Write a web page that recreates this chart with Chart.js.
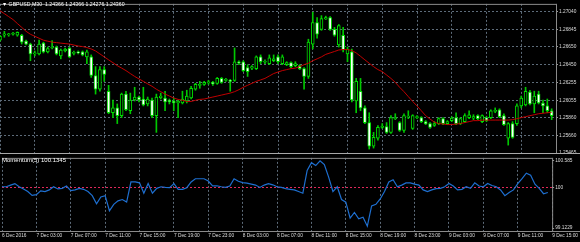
<!DOCTYPE html>
<html><head><meta charset="utf-8">
<script src="https://cdn.jsdelivr.net/npm/chart.js@4.4.1/dist/chart.umd.min.js"></script>
<style>
html,body{margin:0;padding:0;background:#000;width:580px;height:242px;overflow:hidden;}
#wrap{position:relative;width:580px;height:242px;background:#000;}
canvas{position:absolute;left:0;}
#c1{top:0;}
#c2{top:154px;}
.lbl{position:absolute;color:#fff;font-family:"Liberation Sans",Arial,sans-serif;font-size:10px;white-space:nowrap;transform-origin:0 0;line-height:10px;}
</style></head><body>
<div id="wrap">
<canvas id="c1" width="580" height="158"></canvas>
<canvas id="c2" width="580" height="88"></canvas>
<div class="lbl" style="left:2px;top:2px;transform:scale(0.52)">▼ GBPUSD,M30&nbsp; 1.24366 1.24366 1.24276 1.24360</div>
<div class="lbl" style="left:2px;top:157px;transform:scale(0.6)">Momentum(5) 100.1345</div>
</div>
<script>
const tickLabels = ["6 Dec 2016","7 Dec 03:00","7 Dec 07:00","7 Dec 11:00","7 Dec 15:00","7 Dec 19:00","7 Dec 23:00","8 Dec 03:00","8 Dec 07:00","8 Dec 11:00","8 Dec 15:00","8 Dec 19:00","8 Dec 23:00","9 Dec 03:00","9 Dec 07:00","9 Dec 11:00","9 Dec 15:00"];
const priceTicks = [1.27040,1.26845,1.26650,1.26450,1.26255,1.26055,1.25860,1.25660,1.25465];
const momTicks = [100.585,100,99.1229];
const momTickLabels = ["100.585","100","99.1229"];

const open = [
1.26724,1.26779,1.26784,1.26790,1.26779,1.26779,1.26713,1.26681,1.26571,1.26571,
1.26691,1.26593,1.26637,1.26648,1.26549,1.26604,1.26637,1.26577,1.26593,1.26593,
1.26538,1.26538,1.26330,1.26177,1.26396,1.26155,1.25915,1.25969,1.25882,1.26123,
1.25937,1.26057,1.26090,1.26068,1.26013,1.26057,1.25882,1.26084,1.26079,1.26057,
1.26046,1.26024,1.26024,1.26046,1.26079,1.26177,1.26221,1.26232,1.26248,1.26254,
1.26243,1.26298,1.26276,1.26276,1.26276,1.26484,1.26484,1.26418,1.26413,1.26407,
1.26538,1.26478,1.26462,1.26495,1.26538,1.26462,1.26451,1.26473,1.26440,1.26440,
1.26407,1.26320,1.26681,1.26921,1.26845,1.26960,1.26976,1.26845,1.26670,1.26779,
1.26571,1.26593,1.26046,1.26155,1.25969,1.25805,1.25543,1.25630,1.25751,1.25762,
1.25696,1.25849,1.25805,1.25718,1.25866,1.25740,1.25860,1.25860,1.25816,1.25794,
1.25773,1.25794,1.25849,1.25794,1.25827,1.25860,1.25794,1.25816,1.25860,1.25855,
1.25882,1.25816,1.25860,1.25860,1.25931,1.25948,1.25882,1.25630,1.25794,1.25794,
1.25991,1.26002,1.26145,1.26013,1.26123,1.26024,1.25991,1.25937];
const high = [
1.26779,1.26823,1.26801,1.26812,1.26817,1.26790,1.26724,1.26691,1.26604,1.26724,
1.26702,1.26648,1.26719,1.26659,1.26626,1.26637,1.26648,1.26604,1.26604,1.26604,
1.26615,1.26560,1.26429,1.26429,1.26429,1.26221,1.26057,1.26013,1.26134,1.26155,
1.26134,1.26199,1.26101,1.26199,1.26090,1.26079,1.26123,1.26134,1.26155,1.26068,
1.26079,1.26057,1.26155,1.26166,1.26210,1.26243,1.26265,1.26265,1.26276,1.26265,
1.26309,1.26309,1.26298,1.26287,1.26637,1.26495,1.26495,1.26451,1.26440,1.26549,
1.26560,1.26505,1.26560,1.26560,1.26560,1.26560,1.26484,1.26484,1.26484,1.26451,
1.26418,1.26735,1.27036,1.26976,1.26998,1.26992,1.26987,1.26867,1.26899,1.26867,
1.26648,1.26626,1.26298,1.26298,1.25991,1.25915,1.25696,1.25773,1.25794,1.25805,
1.25882,1.25904,1.25816,1.25904,1.25937,1.25893,1.25882,1.25871,1.25827,1.25805,
1.25816,1.25860,1.25860,1.25827,1.25871,1.25915,1.25860,1.25904,1.25937,1.25893,
1.25893,1.25893,1.25871,1.25948,1.25969,1.25959,1.25904,1.25805,1.25816,1.26013,
1.26101,1.26199,1.26166,1.26155,1.26155,1.26057,1.26068,1.25959];
const low = [
1.26713,1.26757,1.26768,1.26779,1.26768,1.26681,1.26670,1.26495,1.26549,1.26560,
1.26582,1.26582,1.26626,1.26560,1.26516,1.26593,1.26527,1.26560,1.26571,1.26549,
1.26462,1.26309,1.26123,1.26155,1.26265,1.25904,1.25860,1.25794,1.25860,1.25937,
1.25904,1.26046,1.26035,1.25991,1.25991,1.25860,1.25696,1.26068,1.25937,1.26013,
1.25937,1.25860,1.26013,1.26024,1.26068,1.26166,1.26188,1.26221,1.26232,1.26221,
1.26232,1.26243,1.26265,1.26155,1.26265,1.26451,1.26374,1.26320,1.26396,1.26396,
1.26462,1.26462,1.26451,1.26484,1.26462,1.26451,1.26440,1.26418,1.26429,1.26396,
1.26177,1.26298,1.26626,1.26746,1.26834,1.26954,1.26834,1.26768,1.26648,1.26593,
1.26484,1.26035,1.25915,1.25937,1.25794,1.25510,1.25521,1.25608,1.25740,1.25685,
1.25685,1.25838,1.25707,1.25696,1.25849,1.25729,1.25849,1.25805,1.25783,1.25740,
1.25762,1.25783,1.25783,1.25783,1.25816,1.25783,1.25783,1.25805,1.25849,1.25838,
1.25838,1.25805,1.25816,1.25849,1.25915,1.25860,1.25773,1.25554,1.25630,1.25773,
1.25969,1.25991,1.26002,1.25915,1.26013,1.25915,1.25915,1.25838];
const close = [
1.26768,1.26795,1.26795,1.26801,1.26812,1.26702,1.26681,1.26571,1.26582,1.26681,
1.26593,1.26631,1.26648,1.26571,1.26615,1.26626,1.26538,1.26588,1.26582,1.26560,
1.26593,1.26330,1.26177,1.26396,1.26341,1.25915,1.25969,1.25882,1.26123,1.25948,
1.26057,1.26090,1.26057,1.26002,1.26068,1.25882,1.26090,1.26101,1.26035,1.26035,
1.26024,1.26041,1.26068,1.26101,1.26188,1.26232,1.26232,1.26254,1.26259,1.26237,
1.26298,1.26254,1.26287,1.26265,1.26484,1.26467,1.26385,1.26374,1.26429,1.26538,
1.26484,1.26489,1.26527,1.26516,1.26484,1.26538,1.26473,1.26429,1.26462,1.26407,
1.26320,1.26702,1.26921,1.26790,1.26965,1.26976,1.26845,1.26779,1.26888,1.26615,
1.26626,1.26057,1.26265,1.25969,1.25805,1.25543,1.25641,1.25751,1.25767,1.25696,
1.25860,1.25860,1.25718,1.25882,1.25876,1.25882,1.25871,1.25816,1.25789,1.25751,
1.25794,1.25849,1.25794,1.25816,1.25855,1.25794,1.25849,1.25882,1.25893,1.25871,
1.25849,1.25882,1.25827,1.25937,1.25942,1.25871,1.25783,1.25794,1.25641,1.25991,
1.26079,1.26155,1.26013,1.26101,1.26024,1.25991,1.25937,1.25882];
const ma = [
1.27052,1.27020,1.26987,1.26954,1.26910,1.26867,1.26823,1.26790,1.26768,1.26746,
1.26724,1.26713,1.26702,1.26697,1.26691,1.26686,1.26681,1.26670,1.26659,1.26653,
1.26642,1.26626,1.26604,1.26571,1.26538,1.26505,1.26473,1.26440,1.26413,1.26385,
1.26352,1.26320,1.26292,1.26265,1.26237,1.26210,1.26177,1.26150,1.26123,1.26101,
1.26079,1.26064,1.26054,1.26041,1.26041,1.26054,1.26064,1.26068,1.26079,1.26090,
1.26101,1.26112,1.26123,1.26134,1.26150,1.26172,1.26199,1.26221,1.26243,1.26265,
1.26281,1.26298,1.26325,1.26352,1.26369,1.26385,1.26396,1.26407,1.26413,1.26429,
1.26451,1.26467,1.26495,1.26516,1.26538,1.26566,1.26582,1.26598,1.26615,1.26620,
1.26620,1.26609,1.26582,1.26544,1.26505,1.26467,1.26429,1.26396,1.26374,1.26336,
1.26298,1.26254,1.26199,1.26150,1.26095,1.26041,1.25991,1.25937,1.25882,1.25844,
1.25811,1.25794,1.25789,1.25783,1.25783,1.25789,1.25794,1.25805,1.25816,1.25827,
1.25827,1.25833,1.25833,1.25833,1.25833,1.25833,1.25833,1.25833,1.25838,1.25849,
1.25860,1.25871,1.25882,1.25893,1.25904,1.25909,1.25915,1.25920];
const momentum = [
100.021,100.021,100.057,100.090,100.021,99.973,99.917,99.833,99.848,99.931,
99.917,99.952,100.021,99.973,99.986,100.036,99.938,99.952,99.986,99.965,
99.917,99.827,99.651,99.798,99.827,99.499,99.639,99.714,99.743,99.687,
100.126,100.126,100.105,99.881,100.090,99.881,99.986,100.021,100.006,100.000,
100.090,99.965,99.965,100.000,100.126,100.195,100.195,100.195,100.146,100.042,
100.042,100.021,100.006,100.036,100.195,100.140,100.111,100.098,100.077,100.057,
100.006,100.057,100.090,100.063,100.021,100.006,99.979,99.965,99.952,99.917,
99.881,100.376,100.543,100.481,100.585,100.502,100.230,99.917,100.021,99.743,
99.687,99.338,99.463,99.325,99.359,99.165,99.603,99.639,99.756,99.917,
100.126,100.174,100.021,100.057,100.105,100.105,100.077,100.057,99.952,99.917,
99.952,99.979,99.986,100.021,100.090,100.036,99.952,99.965,100.021,99.986,
100.105,100.036,100.021,100.090,100.048,100.021,99.952,99.827,99.896,99.952,
100.090,100.195,100.314,100.272,100.077,99.986,99.869,99.896];

// time categories: M30 bars from 6 Dec 2016 23:00 to 9 Dec 15:00
const categories = [];
const t0 = Date.UTC(2016, 11, 6, 23, 0);
for (let i = 0; i <= 128; i++) {
  const d = new Date(t0 + i * 1800000);
  const hh = String(d.getUTCHours()).padStart(2, '0');
  const mm = String(d.getUTCMinutes()).padStart(2, '0');
  categories.push(d.getUTCDate() + ' Dec ' + hh + ':' + mm);
}

const wicks = low.map((l, i) => [l, high[i]]);
const bodies = open.map((o, i) => [o, close[i]]);
const bodyFill = open.map((o, i) => close[i] < o ? '#ffffff' : '#000000');

const GRID = '#5d6b79';
const FONT = {family: '"Liberation Sans", Arial, sans-serif', size: 4.8};
const TXT = '#dcdcdc';
const CLEAR = 'rgba(0,0,0,0)';

const frame = {
  id: 'frame',
  afterDraw(chart, args, o) {
    const {ctx, chartArea: a} = chart;
    ctx.save();
    ctx.fillStyle = o.color;
    if (o.top) ctx.fillRect(a.left, a.top, a.right - a.left, 1);
    ctx.fillRect(a.right, a.top, 1, a.bottom - a.top);
    ctx.fillStyle = o.bottomColor;
    ctx.fillRect(0, a.bottom, chart.width, 1);
    ctx.restore();
  }
};

Chart.defaults.animation = false;

new Chart(document.getElementById('c1'), {
  data: {
    labels: categories,
    datasets: [
      {type: 'line', data: ma, borderColor: '#c00000', borderWidth: 1, pointRadius: 0, tension: 0},
      {type: 'bar', data: bodies, backgroundColor: bodyFill, borderColor: '#00e000', borderWidth: 1,
       borderSkipped: false, barThickness: 3, minBarLength: 1, grouped: false},
      {type: 'bar', data: wicks, backgroundColor: '#00c800', borderWidth: 0, barThickness: 1, grouped: false}
    ]
  },
  options: {
    responsive: false,
    animation: false,
    layout: {padding: {top: 1, bottom: 5, left: 0, right: 0}},
    plugins: {legend: {display: false}, tooltip: {enabled: false},
      frame: {color: '#8a8a8a', bottomColor: '#a8a8a8', top: true}},
    scales: {
      x: {type: 'category', offset: false,
        ticks: {display: false, autoSkip: false},
        grid: {offset: false, drawTicks: false, color: c => (c.index % 8 === 0 ? GRID : CLEAR)},
        border: {display: false, dash: [2, 2]},
        afterFit: s => { s.height = 0; }},
      y: {position: 'right', min: 1.25466, max: 1.27129,
        afterBuildTicks: s => { s.ticks = priceTicks.map(v => ({value: v})); },
        afterFit: s => { s.width = 24; },
        ticks: {color: TXT, font: FONT, padding: 1, autoSkip: false, callback: v => Number(v).toFixed(5)},
        grid: {color: GRID, tickColor: '#9a9a9a', tickLength: 2, tickBorderDash: []},
        border: {display: false, dash: [2, 2]}}
    }
  },
  plugins: [frame]
});

new Chart(document.getElementById('c2'), {
  data: {
    labels: categories,
    datasets: [
      {type: 'line', data: momentum, borderColor: '#1e6fd0', borderWidth: 1.2, pointRadius: 0, tension: 0}
    ]
  },
  options: {
    responsive: false,
    animation: false,
    layout: {padding: {top: 1, bottom: 0, left: 0, right: 0}},
    plugins: {legend: {display: false}, tooltip: {enabled: false},
      frame: {color: '#8a8a8a', bottomColor: '#8a8a8a', top: true}},
    scales: {
      x: {type: 'category', offset: false,
        ticks: {autoSkip: false, maxRotation: 0, minRotation: 0, align: 'start', color: TXT, font: FONT, padding: 2,
          callback: (v, i) => (i % 8 === 0 ? tickLabels[i / 8] : '')},
        grid: {offset: false, drawTicks: false, color: c => (c.index % 8 === 0 ? GRID : CLEAR)},
        border: {display: false, dash: [2, 2]},
        afterFit: s => { s.height = 11; }},
      y: {position: 'right', min: 99.0601, max: 100.6477,
        afterBuildTicks: s => { s.ticks = momTicks.map(v => ({value: v})); },
        afterFit: s => { s.width = 24; },
        ticks: {color: TXT, font: FONT, padding: 1, autoSkip: false,
          callback: v => momTickLabels[momTicks.indexOf(v)]},
        grid: {color: c => (c.tick && c.tick.value === 100 ? '#e0285a' : CLEAR), tickColor: '#9a9a9a', tickLength: 2, tickBorderDash: []},
        border: {display: false, dash: [2, 2]}}
    }
  },
  plugins: [frame]
});
</script>
</body></html>
